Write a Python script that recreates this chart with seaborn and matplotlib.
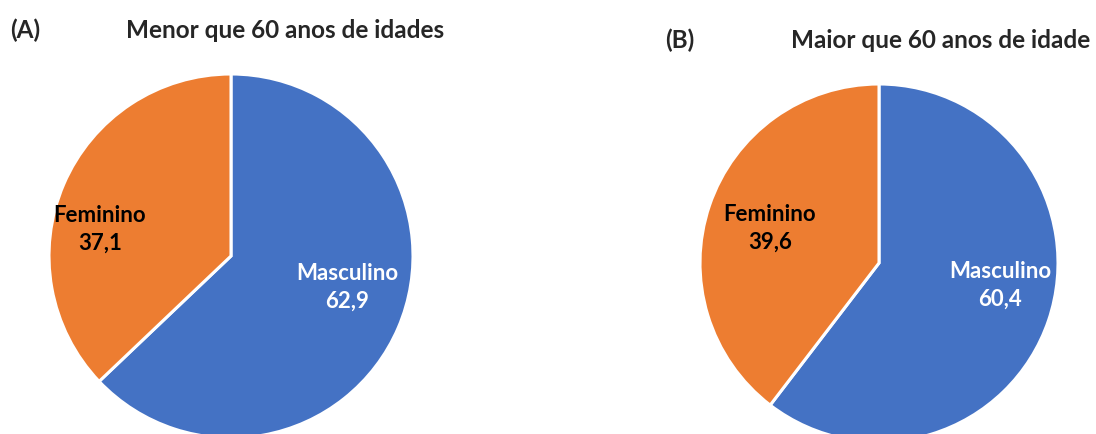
import matplotlib

matplotlib.use("Agg")
import matplotlib.pyplot as plt
import seaborn as sns

categories = ["Masculino", "Feminino"]
under_60 = [62.9, 37.1]
over_60 = [60.4, 39.6]
panel_tags = ["(A)", "(B)"]
panel_titles = ["Menor que 60 anos de idades", "Maior que 60 anos de idade"]

sns.set_theme(style="white")
plt.rcParams["font.family"] = ["Lato", "DejaVu Sans"]

colors = ["#4472C4", "#ED7D31"]
text_colors = ["white", "black"]

W, H = 1096, 435
fig = plt.figure(figsize=(W / 100, H / 100), dpi=100)


def px_axes(left, top, size):
    return fig.add_axes([left / W, (H - top - size) / H, size / W, size / H])


def draw_pie(ax, values, label_pos):
    ax.pie(
        values,
        colors=colors,
        startangle=90,
        counterclock=False,
        radius=1,
        wedgeprops={"edgecolor": "white", "linewidth": 2.2},
    )
    for name, val, (x, y), tc in zip(categories, values, label_pos, text_colors):
        ax.text(x, y, f"{name}\n{val:.1f}".replace(".", ","), ha="center",
                va="center", fontsize=16, fontweight="bold", color=tc,
                linespacing=1.4)
    ax.set_xlim(-1, 1)
    ax.set_ylim(-1, 1)
    ax.set_aspect("equal")
    ax.axis("off")


ax_a = px_axes(49, 75, 364)
draw_pie(ax_a, under_60, [(0.64, -0.165), (-0.72, 0.15)])

ax_b = px_axes(700, 85, 358)
draw_pie(ax_b, over_60, [(0.676, -0.117), (-0.61, 0.2)])

fig.text(10 / W, 1 - 30 / H, panel_tags[0], fontsize=17.5, fontweight="bold", va="center")
fig.text(285 / W, 1 - 30 / H, panel_titles[0], fontsize=17.5, fontweight="bold",
         va="center", ha="center")
fig.text(665 / W, 1 - 40 / H, panel_tags[1], fontsize=17.5, fontweight="bold", va="center")
fig.text(941 / W, 1 - 40 / H, panel_titles[1], fontsize=17.5, fontweight="bold",
         va="center", ha="center")

fig.savefig("out.png", dpi=100)
